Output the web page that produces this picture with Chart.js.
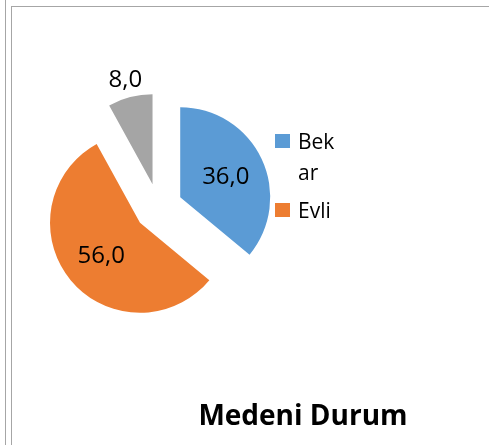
<!DOCTYPE html>
<html><head><meta charset="utf-8">
<script src="https://cdn.jsdelivr.net/npm/chart.js@4/dist/chart.umd.min.js"></script>
<style>
html,body{margin:0;padding:0;background:#fff;}
#wrap{position:relative;width:489px;height:445px;overflow:hidden;background:#fff;}
canvas{position:absolute;left:0;top:0;}
.b{position:absolute;background:#a6a6a6;}
</style></head><body>
<div id="wrap">
<canvas id="c" width="489" height="445"></canvas>
<div class="b" style="left:5px;top:0;width:1px;height:445px"></div>
<div class="b" style="left:11px;top:6px;width:1px;height:439px"></div>
<div class="b" style="left:11px;top:6px;width:478px;height:1px"></div>
</div>
<script>
const categories = ['Bekar', 'Evli', 'Dul'];
const values = [36.0, 56.0, 8.0];
const sliceColors = ['#5B9BD5', '#ED7D31', '#A5A5A5'];
const chartTitle = 'Medeni Durum';

const EXPLODE = 24;
const FONT = '"Open Sans", "Noto Sans", sans-serif';
const fmt = v => v.toFixed(1).replace('.', ',');

function wrapChars(ctx, text, maxW) {
  const lines = []; let cur = '';
  for (const ch of text) {
    if (cur && ctx.measureText(cur + ch).width > maxW) { lines.push(cur); cur = ch; }
    else cur += ch;
  }
  if (cur) lines.push(cur);
  return lines;
}

const excelLike = {
  id: 'excelLike',
  afterDatasetUpdate(chart, args) {
    const meta = chart.getDatasetMeta(args.index);
    meta.data.forEach(arc => {
      const mid = (arc.startAngle + arc.endAngle) / 2;
      arc.x += Math.cos(mid) * EXPLODE;
      arc.y += Math.sin(mid) * EXPLODE;
    });
  },
  afterDraw(chart) {
    const ctx = chart.ctx;
    const meta = chart.getDatasetMeta(0);
    ctx.save();
    // data labels
    ctx.font = '24px ' + FONT;
    ctx.fillStyle = '#000';
    ctx.textAlign = 'center';
    ctx.textBaseline = 'middle';
    meta.data.forEach((arc, i) => {
      const mid = (arc.startAngle + arc.endAngle) / 2;
      const span = arc.endAngle - arc.startAngle;
      const d = span > 0.8 ? arc.outerRadius * 0.56 : arc.outerRadius + 19;
      ctx.fillText(fmt(values[i]), arc.x + Math.cos(mid) * d, arc.y + Math.sin(mid) * d + 1);
    });
    // legend
    const lx = chart.chartArea.right + 16, top = 134, bottomLimit = 250;
    const sq = 14, lineH = 31, gap = 7;
    ctx.font = '21px ' + FONT;
    ctx.textAlign = 'left';
    ctx.textBaseline = 'alphabetic';
    let y = top;
    for (let i = 0; i < categories.length; i++) {
      const lines = wrapChars(ctx, categories[i], 44);
      const h = (lines.length - 1) * lineH + 16;
      if (y + h > bottomLimit) break;
      ctx.fillStyle = sliceColors[i];
      ctx.fillRect(lx, y, sq + 1, sq);
      ctx.fillStyle = '#000';
      lines.forEach((ln, k) => ctx.fillText(ln, lx + 23, y + 15 + k * lineH));
      y += lines.length * lineH + gap;
    }
    // title
    ctx.font = 'bold 28px ' + FONT;
    ctx.textAlign = 'center';
    ctx.fillText(chartTitle, 303, 425);
    ctx.restore();
  }
};

new Chart(document.getElementById('c'), {
  type: 'pie',
  data: {
    labels: categories,
    datasets: [{
      data: values,
      backgroundColor: sliceColors,
      borderWidth: 0,
      offset: 0,
      radius: 90
    }]
  },
  options: {
    responsive: false,
    animation: false,
    radius: 90,
    layout: { padding: { left: 58, right: 230, top: 107, bottom: 137 } },
    plugins: { legend: { display: false }, title: { display: false }, tooltip: { enabled: false } }
  },
  plugins: [excelLike]
});
</script>
</body></html>
